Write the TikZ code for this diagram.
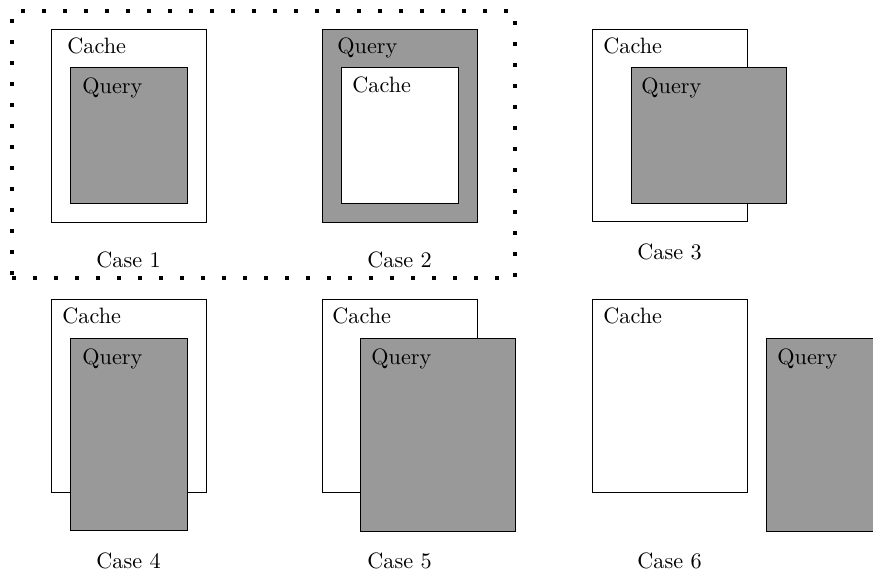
\documentclass[tikz,border=0pt]{standalone}
\usetikzlibrary{positioning}
\definecolor{qgray}{RGB}{153,153,153}
\newcommand\pxu{0.45pt}
\tikzset{
  box/.style={draw=black, line width=0.4pt, inner sep=0pt, outer sep=0pt, anchor=north west, rectangle},
  cachebox/.style={box, fill=white},
  querybox/.style={box, fill=qgray},
  lbl/.style={inner sep=0pt, anchor=base west, font=\normalsize},
  caselbl/.style={inner sep=0pt, anchor=base, font=\normalsize},
  framebox/.style={draw=black, line width=1.8pt, dash pattern=on 1.8pt off 7.65pt, inner sep=0pt, outer sep=0pt, anchor=north west, rectangle},
}
\begin{document}
\begin{tikzpicture}[x=0.45pt,y=-0.45pt]
\clip (0,0) rectangle (873,576);
\fill[white] (0,0) rectangle (873,576);
% frame around case 1 and 2
\node[framebox, minimum width={503*\pxu}, minimum height={267*\pxu}] (frame) at (12,11) {};
% Case 1
\node[cachebox, minimum width={155*\pxu}, minimum height={193*\pxu}] (c1c) at (51,29) {};
\node[querybox, minimum width={117*\pxu}, minimum height={136*\pxu}] (c1q) at (70,67) {};
\node[lbl] (c1ct) at ([shift={(16,24)}]c1c.north west) {Cache};
\node[lbl] (c1qt) at ([shift={(12,26)}]c1q.north west) {Query};
\node[caselbl] (case1) at (128.5,267) {Case 1};
% Case 2
\node[querybox, minimum width={155*\pxu}, minimum height={193*\pxu}] (c2q) at (322,29) {};
\node[cachebox, minimum width={117*\pxu}, minimum height={136*\pxu}] (c2c) at (341,67) {};
\node[lbl] (c2qt) at ([shift={(15,24)}]c2q.north west) {Query};
\node[lbl] (c2ct) at ([shift={(11,25)}]c2c.north west) {Cache};
\node[caselbl] (case2) at (399.5,267) {Case 2};
% Case 3
\node[cachebox, minimum width={155*\pxu}, minimum height={192*\pxu}] (c3c) at (592,29) {};
\node[querybox, minimum width={155*\pxu}, minimum height={136*\pxu}] (c3q) at (631,67) {};
\node[lbl] (c3ct) at ([shift={(11,24)}]c3c.north west) {Cache};
\node[lbl] (c3qt) at ([shift={(10,26)}]c3q.north west) {Query};
\node[caselbl] (case3) at (669.5,259) {Case 3};
% Case 4
\node[cachebox, minimum width={155*\pxu}, minimum height={193*\pxu}] (c4c) at (51,299) {};
\node[querybox, minimum width={117*\pxu}, minimum height={192*\pxu}] (c4q) at (70,338) {};
\node[lbl] (c4ct) at ([shift={(11,24)}]c4c.north west) {Cache};
\node[lbl] (c4qt) at ([shift={(12,26)}]c4q.north west) {Query};
\node[caselbl] (case4) at (128.5,568) {Case 4};
% Case 5
\node[cachebox, minimum width={155*\pxu}, minimum height={193*\pxu}] (c5c) at (322,299) {};
\node[querybox, minimum width={155*\pxu}, minimum height={193*\pxu}] (c5q) at (360,338) {};
\node[lbl] (c5ct) at ([shift={(10,24)}]c5c.north west) {Cache};
\node[lbl] (c5qt) at ([shift={(11,26)}]c5q.north west) {Query};
\node[caselbl] (case5) at (399.5,568) {Case 5};
% Case 6
\node[cachebox, minimum width={155*\pxu}, minimum height={193*\pxu}] (c6c) at (592,299) {};
\node[querybox, minimum width={155*\pxu}, minimum height={193*\pxu}] (c6q) at (766,338) {};
\node[lbl] (c6ct) at ([shift={(11,24)}]c6c.north west) {Cache};
\node[lbl] (c6qt) at ([shift={(11,26)}]c6q.north west) {Query};
\node[caselbl] (case6) at (669.5,568) {Case 6};
\end{tikzpicture}
\end{document}
